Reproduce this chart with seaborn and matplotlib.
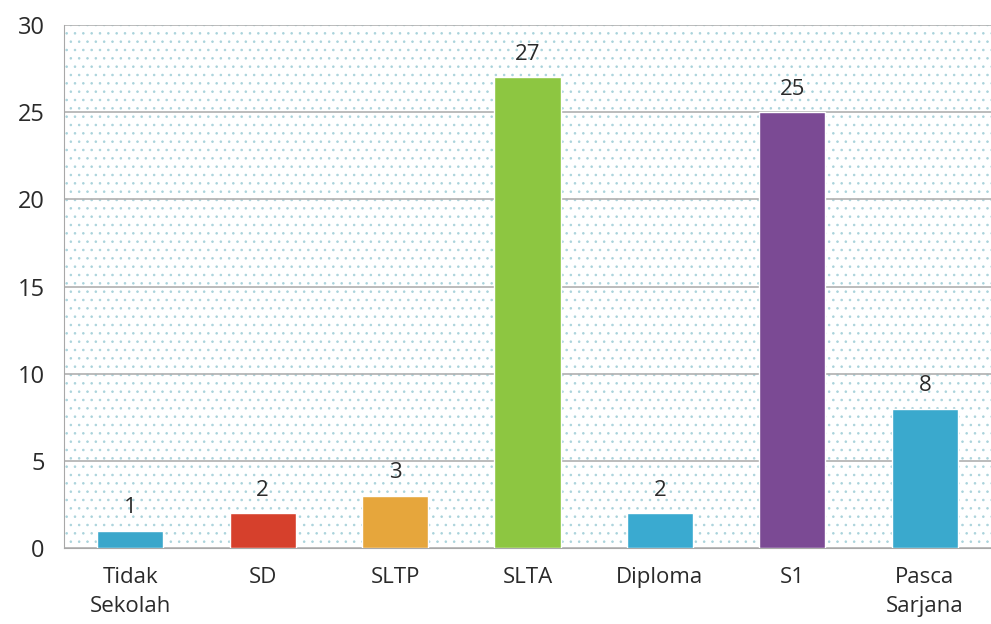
import pandas as pd
import numpy as np
import matplotlib.pyplot as plt
import seaborn as sns
from matplotlib.patches import Rectangle

# Data
categories = ['Tidak\nSekolah', 'SD', 'SLTP', 'SLTA', 'Diploma', 'S1', 'Pasca\nSarjana']
values = [1, 2, 3, 27, 2, 25, 8]
bar_colors = ['#3ba7cb', '#d6402c', '#e6a63c', '#8dc641', '#3aaad0', '#7b4a94', '#3aa9cd']

df = pd.DataFrame({'pendidikan': categories, 'jumlah': values})

sns.set_style('white')
plt.rcParams['font.family'] = ['Open Sans', 'DejaVu Sans']
plt.rcParams['hatch.linewidth'] = 0.6

fig = plt.figure(figsize=(9.91, 6.24), dpi=100)
ax = fig.add_axes([64 / 991, 1 - 548 / 624, 1 - 64 / 991, (548 - 25) / 624])

# dotted background like the scanned chart
bg = Rectangle((0, 0), 1, 1, transform=ax.transAxes, facecolor='none',
               edgecolor='#a9d3db', linewidth=0, hatch='..', zorder=0)
ax.add_patch(bg)

sns.barplot(x='pendidikan', y='jumlah', data=df, hue='pendidikan', palette=bar_colors,
            legend=False, width=0.5, ax=ax, saturation=1, zorder=3)

ax.set_ylim(0, 30)
ax.set_xlim(-0.5, 6.5)
ax.set_yticks(np.arange(0, 31, 5))
ax.yaxis.grid(True, color='#b0b0b0', linewidth=1.2, zorder=1)
ax.set_axisbelow(True)

# value labels
for i, v in enumerate(values):
    ax.text(i, v + 0.7, str(v), ha='center', va='bottom', fontsize=16, color='#2a2a2a')

ax.set_xlabel('')
ax.set_ylabel('')
ax.tick_params(axis='y', labelsize=17, colors='#2a2a2a', length=0, pad=14)
ax.tick_params(axis='x', labelsize=16, colors='#2a2a2a', length=0, pad=14)
for lbl in ax.get_xticklabels():
    lbl.set_linespacing(1.5)
ax.set_xticks(np.arange(-0.5, 7, 1), minor=True)
ax.tick_params(axis='x', which='minor', length=7, color='#a0a0a0', direction='out')

for side in ['top', 'right']:
    ax.spines[side].set_visible(False)
ax.spines['left'].set_color('#a8a8a8')
ax.spines['bottom'].set_color('#a8a8a8')

plt.savefig('out.png', dpi=100)
